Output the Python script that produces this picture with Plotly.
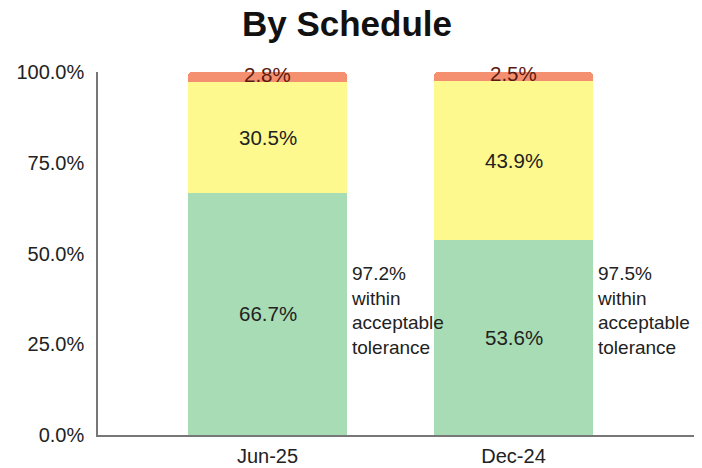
import plotly.graph_objects as go

categories = ["Jun-25", "Dec-24"]
green_vals = [66.7, 53.6]
yellow_vals = [30.5, 43.9]
orange_vals = [2.8, 2.5]
tolerance_vals = [97.2, 97.5]
y_ticks = [0, 25, 50, 75, 100]
y_tick_labels = ["0.0%", "25.0%", "50.0%", "75.0%", "100.0%"]

FONT = "Liberation Sans, Arial, sans-serif"
BAR_W = 0.646

fig = go.Figure()
series = [
    (green_vals, "#a7dcb4", "#222222", 0),
    (yellow_vals, "#fdf98f", "#222222", 0),
    (orange_vals, "#f4906f", "#5a1a12", 3),
]
base = [0.0] * len(categories)
for vals, color, tcolor, yshift in series:
    fig.add_trace(go.Bar(
        x=categories, y=vals, width=BAR_W,
        marker=dict(color=color, line=dict(width=0)),
        hoverinfo="skip", showlegend=False,
    ))
    for i, (cat, v) in enumerate(zip(categories, vals)):
        fig.add_annotation(
            x=cat, y=base[i] + v / 2, xref="x", yref="y", yshift=yshift,
            text=f"{v:.1f}%", showarrow=False,
            font=dict(family=FONT, size=20.5, color=tcolor),
        )
        base[i] += v

for i, (cat, tv) in enumerate(zip(categories, tolerance_vals)):
    fig.add_annotation(
        x=i + BAR_W / 2, y=34.4, xref="x", yref="y",
        xanchor="left", yanchor="middle", xshift=2,
        text=f"{tv:.1f}%<br>within<br>acceptable<br>tolerance",
        align="left", showarrow=False,
        font=dict(family=FONT, size=19, color="#222222"),
    )

fig.update_layout(
    barmode="stack",
    barcornerradius=4,
    width=694, height=460,
    margin=dict(l=90, r=2, t=64, b=33),
    paper_bgcolor="white", plot_bgcolor="white",
    title=dict(text="<b>By Schedule</b>", x=0.4885, xanchor="center", y=0.965, yanchor="middle",
               font=dict(family=FONT, size=35, color="#111111")),
    font=dict(family=FONT, size=20, color="#222222"),
    xaxis=dict(range=[-0.689, 1.758], showgrid=False, showline=True, linecolor="#777777",
               linewidth=1.5, ticks="", automargin=False, ticklabelstandoff=2,
               tickfont=dict(size=20, color="#222222"), fixedrange=True),
    yaxis=dict(range=[0, 100], tickvals=y_ticks, ticktext=y_tick_labels, showgrid=False,
               zeroline=False, showline=True, linecolor="#777777", linewidth=1.5, ticks="",
               ticklabelstandoff=8, automargin=False,
               tickfont=dict(size=20, color="#222222"), fixedrange=True),
)

fig.write_html("out.html")
